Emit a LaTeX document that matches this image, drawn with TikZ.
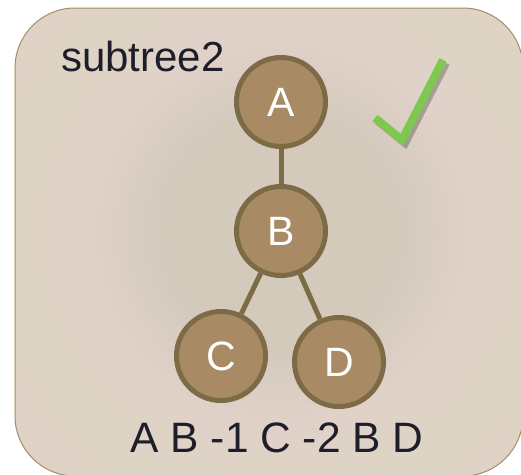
\documentclass[tikz,border=0pt]{standalone}
\usepackage{fontspec}
\setmainfont{Liberation Sans}
\usetikzlibrary{positioning}

\definecolor{bgin}{RGB}{212,202,188}
\definecolor{bgpink}{RGB}{224,209,201}
\definecolor{bgtan}{RGB}{222,212,196}
\definecolor{bgout}{RGB}{233,223,207}
\definecolor{frame}{RGB}{170,140,100}
\definecolor{nodefill}{RGB}{168,139,100}
\definecolor{nodeline}{RGB}{125,107,72}
\definecolor{ink}{RGB}{30,30,42}
\definecolor{tick}{RGB}{126,200,80}

% soft rings behind the tree
\pgfdeclareradialshading{boxglow}{\pgfpoint{0bp}{0bp}}{color(0bp)=(bgin); color(5bp)=(bgin); color(8bp)=(bgpink); color(11bp)=(bgtan); color(15bp)=(bgpink); color(19bp)=(bgtan); color(24bp)=(bgout); color(50bp)=(bgout)}

\tikzset{
  treenode/.style={circle, draw=nodeline, fill=nodefill, line width=5pt,
    minimum size=89pt, inner sep=0pt, text=white,
    font=\fontsize{41}{41}\selectfont},
  treeedge/.style={draw=nodeline, line width=5pt},
  label text/.style={inner sep=0pt, text=ink, font=\fontsize{42}{42}\selectfont}
}

\begin{document}
\begin{tikzpicture}[x=1pt,y=-1pt]
\useasboundingbox (0,0) rectangle (521,474);

% panel
\begin{scope}
\clip[rounded corners=60pt] (15,8) rectangle (523,476);
\shade[shading=boxglow] (281,231) circle (600);
\end{scope}
\draw[frame, line width=1pt, rounded corners=60pt] (15,8) rectangle (523,476);

\node[label text, anchor=base west] (title) at (61,71) {subtree2};

\node[treenode] (A) at (281,102) {A};
\node[treenode] (B) at (281,231) {B};
\node[treenode] (C) at (221,356) {C};
\node[treenode] (D) at (339,362) {D};

\draw[treeedge] (A) -- (B);
\draw[treeedge] (B) -- (C);
\draw[treeedge] (B) -- (D);

\node[label text, anchor=base, font=\fontsize{42.5}{42.5}\selectfont] (walk) at (277,452) {A B -1 C -2 B D};

% check mark with its shadow
\draw[black, opacity=.25, line width=8pt, miter limit=10] (378,121) -- (405,143) -- (446,63);
\draw[tick, line width=8pt, miter limit=10] (375,118) -- (402,140) -- (443,60);
\end{tikzpicture}
\end{document}
